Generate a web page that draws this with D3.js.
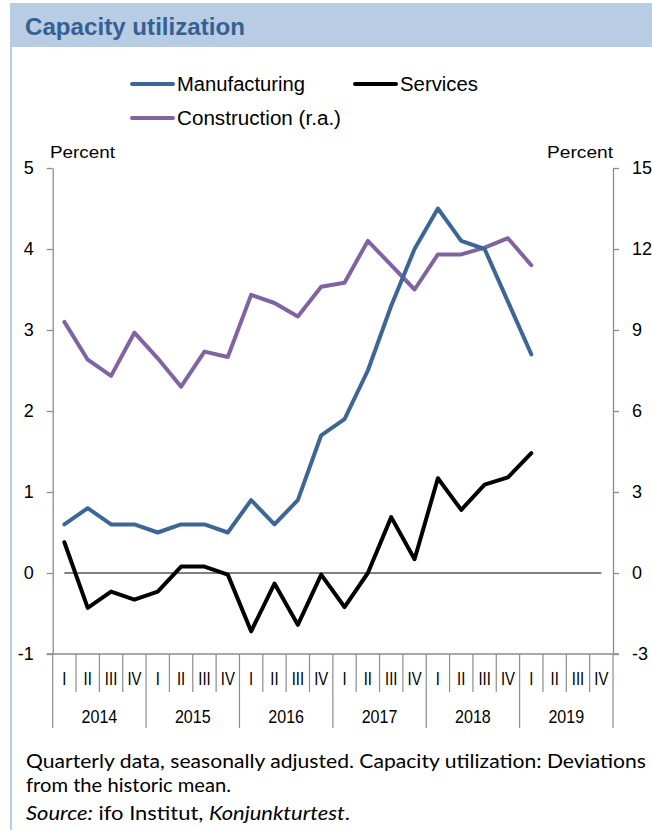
<!DOCTYPE html>
<html>
<head>
<meta charset="utf-8">
<script src="https://cdn.jsdelivr.net/npm/d3@7"></script>
<style>
  body { margin: 0; background: #fff; }
  svg { display: block; font-family: "Liberation Sans", Arial, sans-serif; }
</style>
</head>
<body>
<svg id="chart" width="652" height="830"></svg>
<script>
// quarters shown on the x axis
var years = ["2014", "2015", "2016", "2017", "2018", "2019"];
var quarterNames = ["I", "II", "III", "IV"];

// values, 2014 Q1 .. 2019 Q1
var manufacturing = [0.6, 0.8, 0.6, 0.6, 0.5, 0.6, 0.6, 0.5, 0.9, 0.6, 0.9, 1.7,
                     1.9, 2.5, 3.3, 4.0, 4.5, 4.1, 4.0, 3.35, 2.7];
var services = [0.38, -0.43, -0.23, -0.33, -0.23, 0.08, 0.08, -0.02, -0.72, -0.13, -0.64, -0.02,
                -0.42, 0.0, 0.69, 0.17, 1.17, 0.78, 1.09, 1.18, 1.48];
var construction = [9.3, 7.9, 7.3, 8.9, 7.95, 6.9, 8.2, 8.0, 10.3, 10.0, 9.5, 10.6,
                    10.75, 12.3, 11.4, 10.5, 11.8, 11.8, 12.05, 12.4, 11.4];

var leftTicks = [-1, 0, 1, 2, 3, 4, 5];
var rightTicks = [-3, 0, 3, 6, 9, 12, 15];

var quarters = [];
years.forEach(function (y) {
  quarterNames.forEach(function (q) { quarters.push(y + "-" + q); });
});

var svg = d3.select("#chart");

// title bar and frame
svg.append("rect").attr("x", 10).attr("y", 3).attr("width", 642).attr("height", 44)
  .attr("fill", "#b8cce4");
svg.append("line").attr("x1", 11).attr("x2", 11).attr("y1", 47).attr("y2", 830)
  .attr("stroke", "#b8cce4").attr("stroke-width", 2);
svg.append("text").attr("x", 25).attr("y", 35)
  .attr("font-size", 23).attr("font-weight", "bold").attr("fill", "#376092")
  .attr("textLength", 220).attr("lengthAdjust", "spacingAndGlyphs")
  .text("Capacity utilization");

var plotLeft = 52.7, plotRight = 613, plotTop = 168, plotBottom = 654;

var x = d3.scaleBand().domain(quarters).range([plotLeft, plotRight]);
var yL = d3.scaleLinear().domain([-1, 5]).range([plotBottom, plotTop]);
var yR = d3.scaleLinear().domain([-3, 15]).range([plotBottom, plotTop]);

// axes
var plain = function (d) { return String(d); };
var axL = svg.append("g").attr("transform", "translate(" + plotLeft + ",0)")
  .call(d3.axisLeft(yL).tickValues(leftTicks).tickFormat(plain)
    .tickSize(6).tickSizeOuter(0).tickPadding(13));
var axR = svg.append("g").attr("transform", "translate(" + plotRight + ",0)")
  .call(d3.axisRight(yR).tickValues(rightTicks).tickFormat(plain)
    .tickSize(6).tickSizeOuter(0).tickPadding(13));
[axL, axR].forEach(function (a) {
  a.selectAll("path, line").attr("stroke", "#8c8c8c").attr("stroke-width", 1.3);
  a.selectAll("text").attr("font-size", 18).attr("fill", "#000")
    .attr("font-family", "Liberation Sans, Arial, sans-serif");
});

svg.append("text").attr("x", 50).attr("y", 158).attr("font-size", 16)
  .attr("textLength", 65).attr("lengthAdjust", "spacingAndGlyphs").text("Percent");
svg.append("text").attr("x", 547).attr("y", 158).attr("font-size", 16)
  .attr("textLength", 66).attr("lengthAdjust", "spacingAndGlyphs").text("Percent");

// x axis line and category ticks
var xg = svg.append("g");
xg.append("line").attr("x1", plotLeft - 6).attr("x2", plotRight + 6)
  .attr("y1", plotBottom).attr("y2", plotBottom).attr("stroke", "#8c8c8c").attr("stroke-width", 1.3);
xg.selectAll(".qtick").data(quarters.concat(["end"])).enter().append("line")
  .attr("x1", function (d, i) { return x.range()[0] + i * x.bandwidth(); })
  .attr("x2", function (d, i) { return x.range()[0] + i * x.bandwidth(); })
  .attr("y1", plotBottom)
  .attr("y2", function (d, i) { return i % 4 === 0 ? 728 : 692; })
  .attr("stroke", "#8c8c8c").attr("stroke-width", 1.2);
xg.selectAll(".qlab").data(quarters).enter().append("text")
  .attr("transform", function (d) {
    return "translate(" + (x(d) + x.bandwidth() / 2) + ",685) scale(0.85,1)";
  })
  .attr("text-anchor", "middle")
  .attr("font-size", 17.5)
  .text(function (d) { return d.split("-")[1]; });
xg.selectAll(".ylab").data(years).enter().append("text")
  .attr("transform", function (d) {
    return "translate(" + (x(d + "-I") + 2 * x.bandwidth()) + ",723) scale(0.92,1)";
  })
  .attr("text-anchor", "middle")
  .attr("font-size", 17.5)
  .text(function (d) { return d; });

// zero line
svg.append("line")
  .attr("x1", x(quarters[0]) + x.bandwidth() / 2)
  .attr("x2", x(quarters[quarters.length - 1]) + x.bandwidth() / 2)
  .attr("y1", yL(0)).attr("y2", yL(0))
  .attr("stroke", "#000").attr("stroke-width", 1.2);

function cx(i) { return x(quarters[i]) + x.bandwidth() / 2; }

var lineL = d3.line().x(function (d, i) { return cx(i); }).y(function (d) { return yL(d); });
var lineR = d3.line().x(function (d, i) { return cx(i); }).y(function (d) { return yR(d); });

svg.append("path").datum(construction).attr("d", lineR)
  .attr("fill", "none").attr("stroke", "#8064a2").attr("stroke-width", 4)
  .attr("stroke-linejoin", "round").attr("stroke-linecap", "round");
svg.append("path").datum(manufacturing).attr("d", lineL)
  .attr("fill", "none").attr("stroke", "#3b6696").attr("stroke-width", 4)
  .attr("stroke-linejoin", "round").attr("stroke-linecap", "round");
svg.append("path").datum(services).attr("d", lineL)
  .attr("fill", "none").attr("stroke", "#000").attr("stroke-width", 4)
  .attr("stroke-linejoin", "round").attr("stroke-linecap", "round");

// legend
var legend = [
  { name: "Manufacturing", color: "#3b6696", x: 132, y: 84, w: 128 },
  { name: "Services", color: "#000", x: 355, y: 84, w: 78 },
  { name: "Construction (r.a.)", color: "#8064a2", x: 132, y: 118, w: 164 }
];
var lg = svg.selectAll(".leg").data(legend).enter().append("g");
lg.append("line")
  .attr("x1", function (d) { return d.x; }).attr("x2", function (d) { return d.x + 41; })
  .attr("y1", function (d) { return d.y; }).attr("y2", function (d) { return d.y; })
  .attr("stroke", function (d) { return d.color; }).attr("stroke-width", 4)
  .attr("stroke-linecap", "round");
lg.append("text")
  .attr("x", function (d) { return d.x + 45; })
  .attr("y", function (d) { return d.y + 7; })
  .attr("font-size", 20)
  .attr("textLength", function (d) { return d.w; })
  .attr("lengthAdjust", "spacingAndGlyphs")
  .text(function (d) { return d.name; });

// footnote
var foot = svg.append("g").attr("font-family", "Lato, 'Open Sans', sans-serif").attr("font-size", 18.5);
foot.append("text").attr("x", 26).attr("y", 768)
  .attr("textLength", 620).attr("lengthAdjust", "spacingAndGlyphs")
  .text("Quarterly data, seasonally adjusted. Capacity utilization: Deviations");
foot.append("text").attr("x", 26).attr("y", 792)
  .attr("textLength", 205).attr("lengthAdjust", "spacingAndGlyphs")
  .text("from the historic mean.");
var src = foot.append("text").attr("x", 26).attr("y", 820)
  .attr("textLength", 324).attr("lengthAdjust", "spacingAndGlyphs");
src.append("tspan").attr("font-style", "italic").text("Source:");
src.append("tspan").text(" ifo Institut, ");
src.append("tspan").attr("font-style", "italic").text("Konjunkturtest");
src.append("tspan").text(".");
</script>
</body>
</html>
